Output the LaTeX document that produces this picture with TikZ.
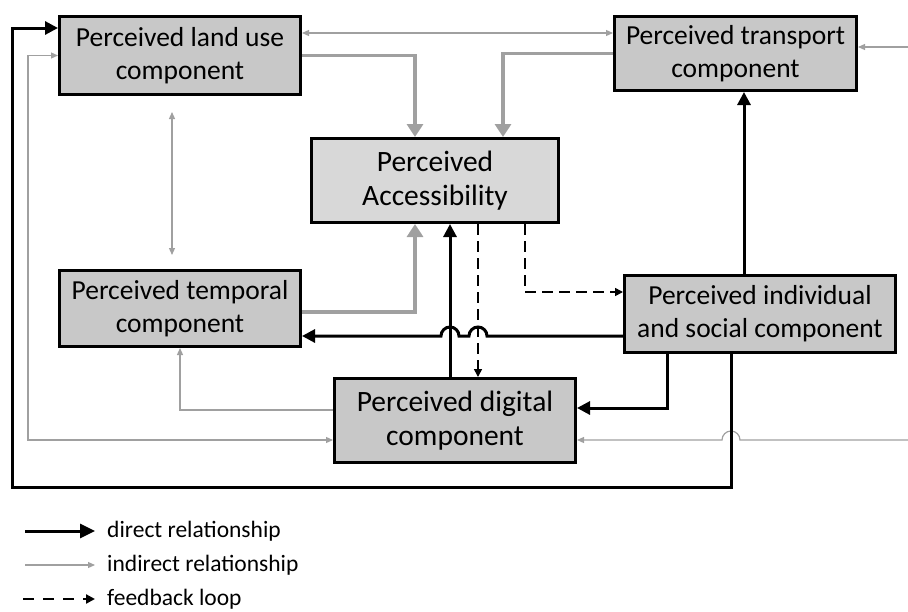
\documentclass[tikz,border=0pt]{standalone}
\usepackage{fontspec}
\setmainfont{Carlito}
\usetikzlibrary{arrows.meta}

\definecolor{boxgray}{HTML}{C8C8C8}
\definecolor{hubgray}{HTML}{D8D8D8}
\definecolor{linegray}{HTML}{A0A0A0}

\tikzset{
  comp/.style={draw, line width=3pt, fill=boxgray, align=center, inner sep=0pt,
    font=\fontsize{27.5}{33}\selectfont},
  bigcomp/.style={comp, font=\fontsize{29.5}{34}\selectfont},
  direct/.style={line width=3pt, -{Triangle[length=13pt,width=13pt]}},
  indirect/.style={draw=linegray, line width=1.2pt, -{Triangle[length=7pt,width=6pt]}},
  twoway/.style={{Triangle[length=7pt,width=6pt]}-{Triangle[length=7pt,width=6pt]}},
  mainlink/.style={draw=linegray, line width=3.5pt, -{Triangle[length=13pt,width=16pt]}},
  feedback/.style={line width=1.6pt, dash pattern=on 11pt off 6pt, -{Triangle[length=8pt,width=8pt]}},
  legtext/.style={anchor=west, inner sep=0pt, font=\fontsize{23.5}{28}\selectfont}
}

\begin{document}
\begin{tikzpicture}[x=1pt,y=-1pt]
\useasboundingbox (0,0) rectangle (908,611);

% components
\node[comp, minimum width=241pt, minimum height=78pt] (landuse) at (180,55.5) {Perceived land use\\component};
\node[comp, minimum width=242pt, minimum height=74pt] (transport) at (735.5,53.5) {Perceived transport\\component};
\node[bigcomp, fill=hubgray, minimum width=247pt, minimum height=84pt] (access) at (435,180.5) {Perceived\\Accessibility};
\node[comp, minimum width=241pt, minimum height=76pt] (temporal) at (180,308.5) {Perceived temporal\\component};
\node[comp, minimum width=271pt, minimum height=77pt] (individual) at (760,314) {Perceived individual\\and social component};
\node[bigcomp, minimum width=241pt, minimum height=84pt] (digital) at (455,420.5) {Perceived digital\\component};

% rails and levels
\coordinate (railuse) at (415,0);
\coordinate (railtrans) at (503,0);
\coordinate (raildig) at (450,0);
\coordinate (railfbA) at (478,0);
\coordinate (railfbB) at (525,0);
\coordinate (railup) at (744,0);
\coordinate (raildown) at (731,0);
\coordinate (railsoc) at (667,0);
\coordinate (railtime) at (172,0);
\coordinate (railleft) at (28,0);
\coordinate (railouter) at (12,0);
\coordinate (lvltop) at (0,33);
\coordinate (lvlloop) at (0,28);
\coordinate (lvltemp) at (0,312);
\coordinate (lvlfb) at (0,292);
\coordinate (lvlsoc) at (0,336);
\coordinate (lvldigA) at (0,408);
\coordinate (lvldigB) at (0,410);
\coordinate (lvldigC) at (0,440);
\coordinate (lvlbottom) at (0,487);
\coordinate (rimtop) at (908,47);
\coordinate (rimbot) at (908,440);
\coordinate (hopfb) at (487,336);
\coordinate (hopdig) at (459,336);
\coordinate (hopgray) at (740,440);

% indirect
\draw[indirect, twoway] (lvltop -| landuse.east) -- (lvltop -| transport.west);
\draw[indirect] (rimtop) -- (rimtop -| transport.east);
\draw[indirect, twoway] (landuse.west) -| (railleft |- lvldigC) -- (lvldigC -| digital.west);
\draw[indirect, twoway, shorten <=16pt, shorten >=14pt] (railtime |- landuse.south) -- (railtime |- temporal.north);
\draw[indirect] (lvldigB -| digital.west) -| (temporal.south);
\draw[indirect] (rimbot) -- (hopgray) arc[start angle=0, end angle=180, radius=9pt] -- (rimbot -| digital.east);

% into accessibility
\draw[mainlink] (landuse.east) -| (railuse |- access.north);
\draw[mainlink] (transport.west) -| (railtrans |- access.north);
\draw[mainlink] (lvltemp -| temporal.east) -| (railuse |- access.south);

% direct
\draw[direct] (raildig |- digital.north) -- (raildig |- access.south);
\draw[direct] (lvlsoc -| individual.west) -- (hopfb) arc[start angle=0, end angle=180, radius=9pt]
  -- (hopdig) arc[start angle=0, end angle=180, radius=9pt] -- (lvlsoc -| temporal.east);
\draw[direct] (railsoc |- individual.south) |- (lvldigA -| digital.east);
\draw[direct] (railup |- individual.north) -- (railup |- transport.south);
\draw[direct] (raildown |- individual.south) |- (railouter |- lvlbottom) |- (lvlloop -| landuse.west);

% feedback
\draw[feedback] (railfbA |- access.south) -- (railfbA |- digital.north);
\draw[feedback] (railfbB |- access.south) |- (lvlfb -| individual.west);

% legend
\node[legtext] (keydirect) at (107,531) {direct relationship};
\node[legtext] (keyindirect) at (107,565) {indirect relationship};
\node[legtext] (keyfeedback) at (107,599) {feedback loop};
\coordinate (keystartA) at (25,531);
\coordinate (keystartB) at (25,565);
\coordinate (keystartC) at (23,599);
\draw[direct, shorten >=12pt, -{Triangle[length=15pt,width=14pt]}] (keystartA) -- (keydirect.west);
\draw[indirect, shorten >=12pt] (keystartB) -- (keyindirect.west);
\draw[feedback, line width=2.2pt, dash pattern=on 11pt off 9pt, shorten >=12pt,
  -{Triangle[length=9pt,width=9pt]}] (keystartC) -- (keyfeedback.west);

\end{tikzpicture}
\end{document}
